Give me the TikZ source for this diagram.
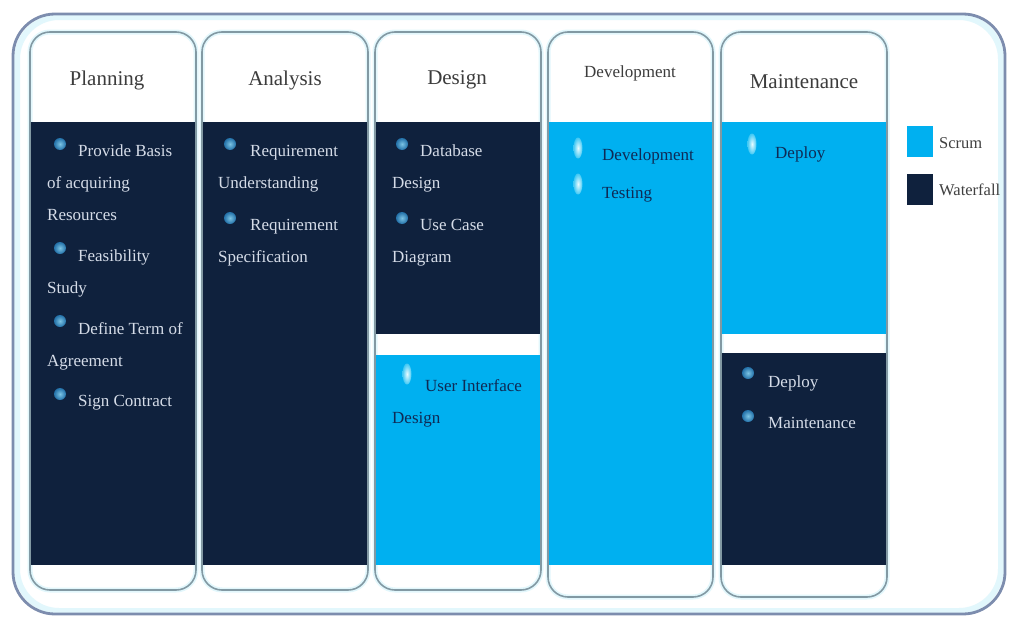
\documentclass[tikz,border=0pt]{standalone}
\usepackage{fontspec}
\setmainfont{Liberation Serif}
\usetikzlibrary{shapes.geometric}
\definecolor{navy}{HTML}{0F213D}
\definecolor{sky}{HTML}{00B0F0}
\definecolor{frame}{HTML}{7D8DAE}
\definecolor{colline}{HTML}{8299A3}
\definecolor{glow}{HTML}{E2F7FC}
\definecolor{headtext}{HTML}{3C3C3C}
\definecolor{lighttext}{HTML}{D5DCE8}
\definecolor{darktext}{HTML}{0F2A55}
\definecolor{dotin}{HTML}{7CC4E4}
\definecolor{dotout}{HTML}{2270A8}
\definecolor{dropin}{HTML}{E8FBFF}
\definecolor{dropout}{HTML}{40C8F4}
\tikzset{
  column/.style={draw=colline, line width=1.6pt, rounded corners=20pt},
  columnglow/.style={draw=glow, line width=5pt, rounded corners=20pt},
  head/.style={font=\fontsize{21}{24}\selectfont, text=headtext, inner sep=0pt},
  smallhead/.style={font=\fontsize{17}{20}\selectfont, text=headtext, inner sep=0pt},
  itm/.style={font=\fontsize{17}{32}\selectfont, align=left, anchor=north west, inner sep=0pt},
  onnavy/.style={itm, text=lighttext},
  onsky/.style={itm, text=darktext},
  dot/.style={circle, minimum size=12pt, inner sep=0pt, inner color=dotin, outer color=dotout},
  drop/.style={ellipse, minimum width=9pt, minimum height=21pt, inner sep=0pt, inner color=dropin, outer color=dropout},
  legtext/.style={font=\fontsize{16.5}{19}\selectfont, text=black!75, anchor=west, inner sep=0pt},
}
\begin{document}
\begin{tikzpicture}[x=1pt,y=-1pt]
\useasboundingbox (0,0) rectangle (1011,621);
\fill[white] (0,0) rectangle (1011,621);

% outer frame
\draw[draw=glow, line width=6pt, rounded corners=42pt] (17,17) rectangle (1001,611);
\draw[draw=frame, line width=2.8pt, rounded corners=42pt] (13,14) rectangle (1005,614);

% Planning column
\draw[columnglow] (30,32) rectangle (196,590);
\fill[navy] (31,122) rectangle (195,565);
\draw[column] (30,32) rectangle (196,590);
% Analysis column
\draw[columnglow] (202,32) rectangle (368,590);
\fill[navy] (203,122) rectangle (367,565);
\draw[column] (202,32) rectangle (368,590);
% Design column
\draw[columnglow] (375,32) rectangle (541,590);
\fill[navy] (376,122) rectangle (540,334);
\fill[sky] (376,355) rectangle (540,565);
\draw[column] (375,32) rectangle (541,590);
% Development column
\draw[columnglow] (548,32) rectangle (713,597);
\fill[sky] (549,122) rectangle (712,565);
\draw[column] (548,32) rectangle (713,597);
% Maintenance column
\draw[columnglow] (721,32) rectangle (887,597);
\fill[sky] (722,122) rectangle (886,334);
\fill[navy] (722,353) rectangle (886,565);
\draw[column] (721,32) rectangle (887,597);

% headings
\node[head] (hplan) at (107,80) {Planning};
\node[head] (hana) at (285,80) {Analysis};
\node[head] (hdes) at (457,80) {Design};
\node[smallhead] (hdev) at (630,73) {Development};
\node[head] (hmain) at (804,82) {Maintenance};

% Planning items
\node[dot] (bp1) at (60,144) {};
\node[onnavy] (tp1) at (47,145) {\hspace*{31pt}Provide Basis\\of acquiring\\Resources};
\node[dot] (bp2) at (60,248) {};
\node[onnavy] (tp2) at (47,249) {\hspace*{31pt}Feasibility\\Study};
\node[dot] (bp3) at (60,321) {};
\node[onnavy] (tp3) at (47,322) {\hspace*{31pt}Define Term of\\Agreement};
\node[dot] (bp4) at (60,394) {};
\node[onnavy] (tp4) at (47,395) {\hspace*{31pt}Sign Contract};

% Analysis items
\node[dot] (ba1) at (230,144) {};
\node[onnavy] (ta1) at (218,145) {\hspace*{32pt}Requirement\\Understanding};
\node[dot] (ba2) at (230,218) {};
\node[onnavy] (ta2) at (218,219) {\hspace*{32pt}Requirement\\Specification};

% Design items
\node[dot] (bd1) at (402,144) {};
\node[onnavy] (td1) at (392,145) {\hspace*{28pt}Database\\Design};
\node[dot] (bd2) at (402,218) {};
\node[onnavy] (td2) at (392,219) {\hspace*{28pt}Use Case\\Diagram};
\node[drop] (bd3) at (407,374) {};
\node[onsky] (td3) at (392,379) {\hspace*{33pt}User Interface\\Design};

% Development items
\node[drop] (bv1) at (578,148) {};
\node[onsky] (tv1) at (602,149) {Development};
\node[drop] (bv2) at (578,184) {};
\node[onsky] (tv2) at (602,187) {Testing};

% Maintenance items
\node[drop] (bm1) at (752,144) {};
\node[onsky] (tm1) at (775,147) {Deploy};
\node[dot] (bm2) at (748,373) {};
\node[onnavy] (tm2) at (768,375) {Deploy};
\node[dot] (bm3) at (748,416) {};
\node[onnavy] (tm3) at (768,417) {Maintenance};

% legend
\fill[sky] (907,126) rectangle (933,157);
\node[legtext] (lscrum) at (939,143) {Scrum};
\fill[navy] (907,174) rectangle (933,205);
\node[legtext] (lwater) at (939,190) {Waterfall};
\end{tikzpicture}
\end{document}
